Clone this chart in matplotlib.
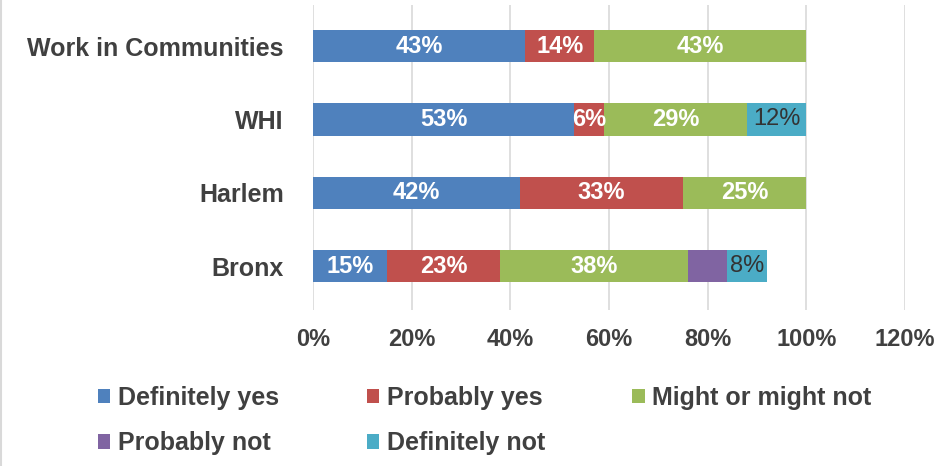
import matplotlib
matplotlib.use("Agg")
import matplotlib.pyplot as plt
import numpy as np

categories = ["Bronx", "Harlem", "WHI", "Work in Communities"]
series_names = ["Definitely yes", "Probably yes", "Might or might not", "Probably not", "Definitely not"]
definitely_yes = [15, 42, 53, 43]
probably_yes = [23, 33, 6, 14]
might_or_might_not = [38, 25, 29, 43]
probably_not = [8, 0, 0, 0]
definitely_not = [8, 0, 12, 0]
show_label = [[True, True, True, True], [True, True, True, True], [True, True, True, True],
              [False, False, False, False], [True, False, True, False]]
colors = ["#4F81BD", "#C0504D", "#9BBB59", "#8064A2", "#4BACC6"]
label_colors = ["white", "white", "white", "white", "#333333"]
label_weights = ["bold", "bold", "bold", "bold", "normal"]
xticks = [0, 20, 40, 60, 80, 100, 120]

plt.rcParams['font.family'] = ['Liberation Sans', 'DejaVu Sans']

fig = plt.figure(figsize=(9.45, 4.66), dpi=100)
ax = fig.add_axes([313/945, 1-310/466, (905-313)/945, (310-5)/466])

data = [definitely_yes, probably_yes, might_or_might_not, probably_not, definitely_not]
y = np.arange(len(categories))
left = np.zeros(len(categories))
handles = []
for i, vals in enumerate(data):
    vals = np.array(vals, dtype=float)
    b = ax.barh(y, vals, left=left, height=0.44, color=colors[i], label=series_names[i], zorder=3)
    handles.append(b)
    for j, v in enumerate(vals):
        if v > 0 and show_label[i][j]:
            ax.text(left[j] + v/2, y[j], f"{int(v)}%", ha="center", va="center",
                    color=label_colors[i], fontsize=17, fontweight=label_weights[i], zorder=4)
    left += vals

ax.set_xlim(0, 120)
ax.set_ylim(-0.6, 3.56)
ax.set_xticks(xticks)
ax.set_xticklabels([f"{t}%" for t in xticks], fontsize=17, fontweight="bold", color="#404040")
ax.set_yticks(y)
ax.set_yticklabels(categories, fontsize=18, fontweight="bold", color="#404040")
ax.tick_params(axis="both", length=0)
ax.tick_params(axis="x", pad=13)
ax.tick_params(axis="y", pad=21)
ax.xaxis.grid(True, color="#D9D9D9", linewidth=1.2, zorder=0)
for s in ax.spines.values():
    s.set_visible(False)

order = [0, 3, 1, 4, 2]
leg = fig.legend([handles[k] for k in order], [series_names[k] for k in order],
                 loc="upper left", bbox_to_anchor=(98/945, 1-386/466), ncol=3, frameon=False,
                 prop={"size": 18, "weight": "bold"}, labelcolor="#404040",
                 handlelength=0.5, handleheight=0.5, handletextpad=0.3, columnspacing=3.5,
                 labelspacing=0.85, borderpad=0, borderaxespad=0)

fig.add_artist(plt.Line2D([0.001, 0.001], [0, 1], color="#D9D9D9", linewidth=1.5))
fig.savefig("out.png", dpi=100)
